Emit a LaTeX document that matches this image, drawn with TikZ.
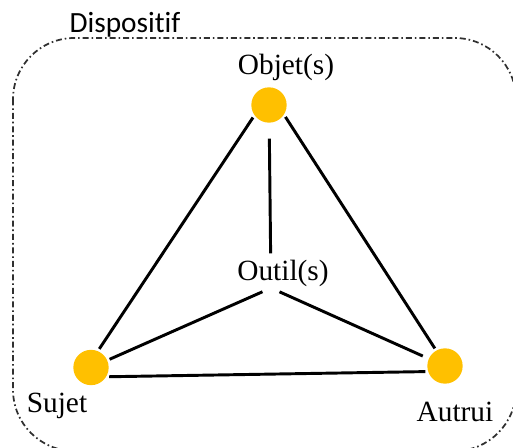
\documentclass[tikz,border=0pt]{standalone}
\usepackage{fontspec}
\setmainfont{Liberation Serif}
\newfontfamily\calibri[Ligatures=NoCommon]{Carlito}
\definecolor{or}{HTML}{FFC000}
\definecolor{cadre}{HTML}{303030}
\tikzset{
  sommet/.style={circle, fill=or, minimum size=26.5pt, inner sep=0pt, outer sep=2pt},
  lien/.style={line width=2.2pt, black},
  etiq/.style={font=\fontsize{22}{26}\selectfont, inner sep=0pt}
}
\begin{document}
\begin{tikzpicture}[x=0.75pt, y=-0.75pt]
		\useasboundingbox (0,0) rectangle (513,448);
		% Dispositif
		\draw [cadre, line width=1.3pt, dash pattern=on 4.5pt off 2.2pt on 1.2pt off 2.2pt, rounded corners=46pt] (13,38) rectangle (516,451);
		\node [etiq, font=\calibri\fontsize{22}{26}\selectfont] (dispo) at (125,25) {Dispositif};
		% Sommets
		\node [sommet] (objet) at (269,105) {};
		\node [sommet] (sujet) at (91,367.5) {};
		\node [sommet] (autrui) at (445,366) {};
		\node [etiq] (lobjet) at (286,67) {Objet(s)};
		\node [etiq] (lsujet) at (57,406) {Sujet};
		\node [etiq] (lautrui) at (455,412) {Autrui};
		\node [etiq] (outil) at (283,273) {Outil(s)};
		\coordinate (hub) at (271,288);
		% Liens
		\draw [lien] (objet.218) -- (sujet.66);
		\draw [lien] (objet.-36) -- (autrui.120);
		\draw [lien] (sujet.-27) -- (autrui.-164);
		\draw [lien, shorten <=10pt, shorten >=26pt] (objet) -- (hub);
		\draw [lien, shorten >=7pt] (sujet) -- (hub);
		\draw [lien, shorten <=3pt, shorten >=7pt] (autrui) -- (hub);
\end{tikzpicture}
\end{document}
